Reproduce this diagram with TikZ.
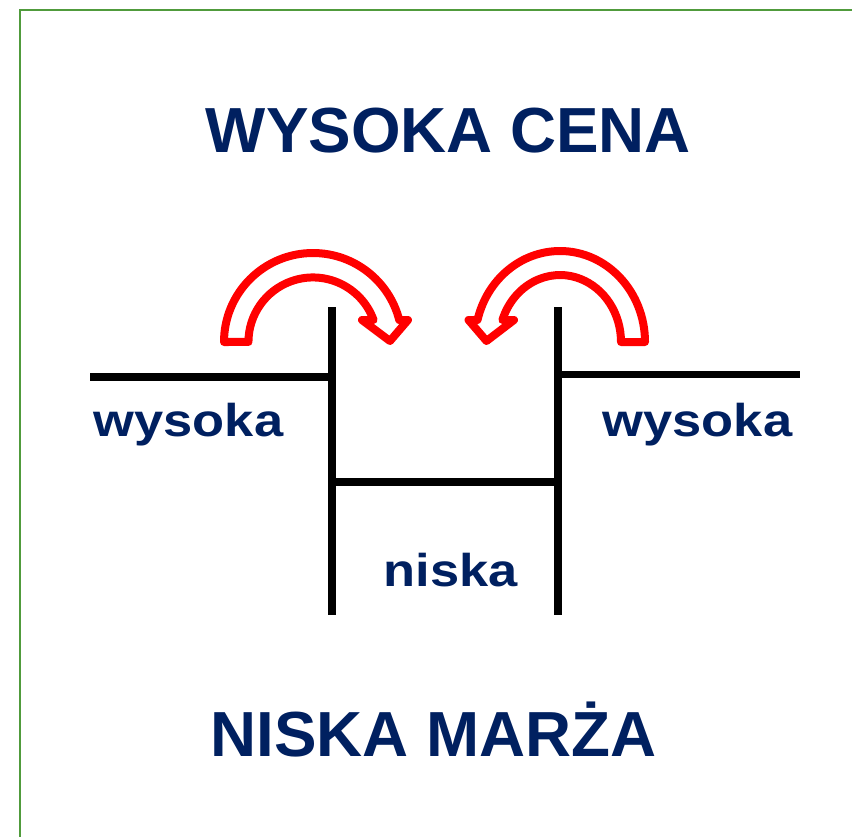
\documentclass[tikz,border=0pt]{standalone}
\usepackage{fontspec}
\setmainfont{Liberation Sans}
\usepackage{graphicx}
\definecolor{navy}{RGB}{0,32,96}
\definecolor{framegreen}{RGB}{80,155,60}
\begin{document}
\begin{tikzpicture}[x=0.75pt,y=-0.75pt,
  bar/.style={line width=5.6pt, draw=black},
  bendarrow/.style={draw=red, line width=6pt, fill=white, line join=round},
  headtext/.style={font=\bfseries\fontsize{47.8}{55}\selectfont, text=navy, anchor=base, inner sep=0pt},
  lowtext/.style={font=\bfseries\fontsize{34.5}{40}\selectfont, text=navy, anchor=base, inner sep=0pt}]
\useasboundingbox (0,0) rectangle (852,836);
\clip (0,0) rectangle (852,836);
\fill[white] (0,0) rectangle (852,836);
\draw[framegreen, line width=1.6pt] (20,10) rectangle (900,900);

% curved arrows
\draw[bendarrow] (224,342) arc[start angle=180, end angle=345.7, radius=89]
  -- (408,320) -- (390,341) -- (362,320) -- (373.6,320)
  arc[start angle=340.1, end angle=180, radius=64.5] -- cycle;
\draw[bendarrow] (645,342) arc[start angle=0, end angle=-166, x radius=85, y radius=91]
  -- (468.5,320) -- (486.5,341) -- (514,320) -- (502.4,320)
  arc[start angle=-160.8, end angle=0, x radius=61, y radius=67] -- cycle;

% lines
\coordinate (LH1) at (90,377);
\coordinate (LH2) at (332,377);
\coordinate (LV1) at (332,307);
\coordinate (LV2) at (332,615);
\coordinate (RV1) at (558,307);
\coordinate (RV2) at (558,615);
\coordinate (RH1) at (558,374.5);
\coordinate (RH2) at (800,374.5);
\coordinate (M1) at (332,482);
\coordinate (M2) at (562,482);
\draw[bar] (LH1) -- (LH2);
\draw[bar] (LV1) -- (LV2);
\draw[bar] (RV1) -- (RV2);
\draw[bar] (RH1) -- (RH2);
\draw[bar] (M1) -- (M2);

% texts
\node[headtext] (top) at (448.5,152) {WYSOKA CENA};
\node[headtext] (bottom) at (433.5,756) {NISKA MARŻA};
\node[lowtext] (wl) at (188.5,436) {\scalebox{1.14}[1]{wysoka}};
\node[lowtext] (wr) at (697.5,436) {\scalebox{1.14}[1]{wysoka}};
\node[lowtext] (nl) at (451,586) {\scalebox{1.14}[1]{niska}};
\end{tikzpicture}
\end{document}
